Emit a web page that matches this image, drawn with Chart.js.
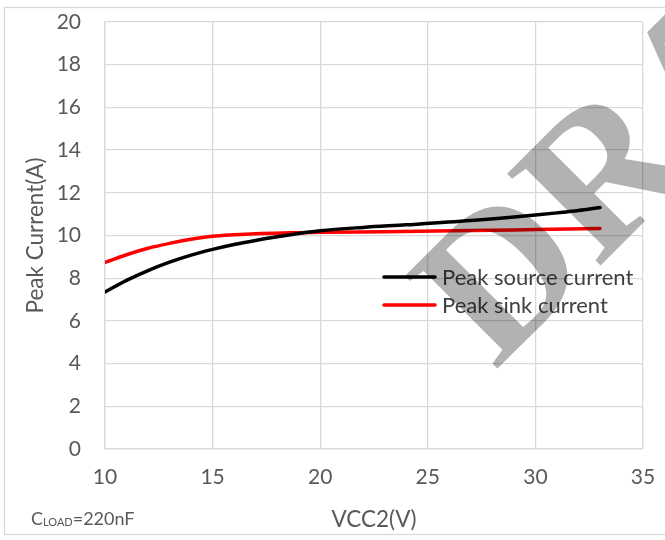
<!DOCTYPE html>
<html>
<head>
<meta charset="utf-8">
<title>Peak Current vs VCC2</title>
<script src="https://cdn.jsdelivr.net/npm/chart.js@4.4.1/dist/chart.umd.min.js"></script>
<style>
  html, body { margin: 0; padding: 0; background: #ffffff; }
  canvas { display: block; }
</style>
</head>
<body>
<canvas id="chart" width="665" height="540"></canvas>
<script>
// Supply voltage sweep (V) and measured peak gate-drive currents (A), C_LOAD = 220 nF
const sourceVcc2 = [10, 11, 12, 13, 14, 15, 16, 17, 18, 20, 22, 24, 27, 30, 31, 32, 33];
const sourceCurrent = [7.35, 7.9, 8.36, 8.75, 9.08, 9.35, 9.58, 9.77, 9.94, 10.22, 10.38, 10.5, 10.7, 10.96, 11.06, 11.17, 11.31];
const sinkVcc2 = [10, 11, 12, 13, 14, 15, 16, 17, 20, 23, 27, 30, 33];
const sinkCurrent = [8.74, 9.1, 9.4, 9.63, 9.82, 9.96, 10.03, 10.08, 10.15, 10.18, 10.23, 10.28, 10.33];

const seriesNames = ['Peak source current', 'Peak sink current'];
const xTitle = 'VCC2(V)';
const yTitle = 'Peak Current(A)';
const xRange = [10, 35];
const yRange = [0, 20];

const FONT = 'Lato';
const TEXT = '#595959';
const GRID = '#d9d9d9';

function toPoints(xs, ys) {
  return xs.map((x, i) => ({ x: x, y: ys[i] }));
}

// Frame around the whole figure
const framePlugin = {
  id: 'frame',
  beforeDraw(chart) {
    const ctx = chart.ctx;
    ctx.save();
    ctx.fillStyle = '#ffffff';
    ctx.fillRect(0, 0, chart.width, chart.height);
    ctx.strokeStyle = GRID;
    ctx.lineWidth = 1.3;
    ctx.strokeRect(4.5, 7.5, chart.width + 20, 527);
    ctx.restore();
  }
};

// Legend sitting inside the plot area
const insideLegend = {
  id: 'insideLegend',
  afterDatasetsDraw(chart) {
    const ctx = chart.ctx;
    const rows = [277, 305];
    ctx.save();
    ctx.font = '22px ' + FONT;
    ctx.textBaseline = 'middle';
    ctx.textAlign = 'left';
    chart.data.datasets.forEach((ds, i) => {
      const y = rows[i];
      ctx.strokeStyle = ds.borderColor;
      ctx.lineWidth = 3.5;
      ctx.lineCap = 'round';
      ctx.beginPath();
      ctx.moveTo(384, y);
      ctx.lineTo(435, y);
      ctx.stroke();
      ctx.fillStyle = '#404040';
      ctx.fillText(ds.label, 442, y + 1);
    });
    ctx.restore();
  }
};

// Load-capacitance note and the DRAFT stamp
const notesPlugin = {
  id: 'notes',
  afterDraw(chart) {
    const ctx = chart.ctx;
    ctx.save();
    ctx.fillStyle = TEXT;
    ctx.textBaseline = 'alphabetic';
    ctx.textAlign = 'left';
    let x = 31;
    ctx.font = '18px ' + FONT;
    ctx.fillText('C', x, 524.5);
    x += ctx.measureText('C').width;
    ctx.font = '11px ' + FONT;
    ctx.fillText('LOAD', x, 525.5);
    x += ctx.measureText('LOAD').width;
    ctx.font = '18px ' + FONT;
    ctx.fillText('=220nF', x, 524.5);
    ctx.restore();

    ctx.save();
    ctx.translate(495, 371);
    ctx.rotate(-Math.PI / 4);
    ctx.font = 'bold 200px "Liberation Serif"';
    ctx.fillStyle = 'rgba(0,0,0,0.3)';
    ctx.textBaseline = 'alphabetic';
    ctx.fillText('DRAFT', 0, 0);
    ctx.restore();
  }
};

new Chart(document.getElementById('chart'), {
  type: 'scatter',
  data: {
    datasets: [
      {
        label: seriesNames[0],
        data: toPoints(sourceVcc2, sourceCurrent),
        showLine: true,
        borderColor: '#000000',
        backgroundColor: '#000000',
        borderWidth: 3.5,
        pointRadius: 0,
        cubicInterpolationMode: 'monotone',
        borderCapStyle: 'round'
      },
      {
        label: seriesNames[1],
        data: toPoints(sinkVcc2, sinkCurrent),
        showLine: true,
        borderColor: '#ff0000',
        backgroundColor: '#ff0000',
        borderWidth: 3.5,
        pointRadius: 0,
        cubicInterpolationMode: 'monotone',
        borderCapStyle: 'round'
      }
    ]
  },
  options: {
    responsive: false,
    animation: false,
    devicePixelRatio: 1,
    layout: { padding: { top: 22, right: 22, left: 0, bottom: 0 } },
    plugins: {
      legend: { display: false },
      tooltip: { enabled: false }
    },
    scales: {
      x: {
        type: 'linear',
        min: xRange[0],
        max: xRange[1],
        ticks: {
          stepSize: 5,
          padding: 16,
          color: TEXT,
          font: { family: FONT, size: 21 }
        },
        grid: { color: GRID, lineWidth: 1.3, drawTicks: false },
        border: { color: GRID, width: 1.3 },
        title: {
          display: true,
          text: xTitle,
          color: TEXT,
          font: { family: FONT, size: 22.5 },
          padding: { top: 0, bottom: 7 }
        },
        afterFit(scale) {
          scale.height = 91;
          scale.paddingLeft = 0;
          scale.paddingRight = 0;
        }
      },
      y: {
        type: 'linear',
        min: yRange[0],
        max: yRange[1],
        ticks: {
          stepSize: 2,
          padding: 24,
          color: TEXT,
          font: { family: FONT, size: 21 }
        },
        grid: { color: GRID, lineWidth: 1.3, drawTicks: false },
        border: { color: GRID, width: 1.3 },
        title: {
          display: true,
          text: yTitle,
          color: TEXT,
          font: { family: FONT, size: 22.5 },
          padding: { top: 22, bottom: 0 }
        },
        afterFit(scale) {
          scale.width = 105;
          scale.paddingTop = 0;
          scale.paddingBottom = 0;
        }
      }
    }
  },
  plugins: [framePlugin, insideLegend, notesPlugin]
});
</script>
</body>
</html>
